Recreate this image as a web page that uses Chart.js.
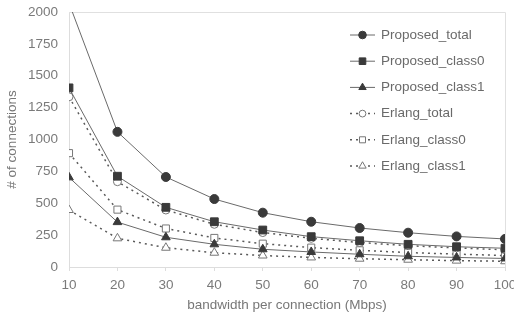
<!DOCTYPE html>
<html>
<head>
<meta charset="utf-8">
<script src="https://cdn.jsdelivr.net/npm/chart.js@4"></script>
<style>
  html, body { margin: 0; padding: 0; background: #fff; }
  #wrap { width: 514px; height: 317px; position: relative; }
</style>
</head>
<body>
<div id="wrap"><canvas id="chart"></canvas></div>
<script>
// bandwidth per connection (Mbps)
const bandwidth = [10, 20, 30, 40, 50, 60, 70, 80, 90, 100];

// # of connections
const proposedTotal  = [2070, 1060, 706, 533, 426, 355, 306, 269, 240, 220];
const proposedClass0 = [1405, 712, 468, 355, 290, 238, 206, 178, 159, 147];
const proposedClass1 = [703, 352, 233, 178, 139, 118, 100, 84, 75, 67];
const erlangTotal    = [1335, 669, 447, 335, 270, 225, 192, 167, 150, 135];
const erlangClass0   = [893, 450, 302, 228, 183, 152, 131, 113, 101, 90];
const erlangClass1   = [447, 225, 151, 112, 90, 75, 65, 57, 50, 45];

const yTicks = [0, 250, 500, 750, 1000, 1250, 1500, 1750, 2000];

const LINE = '#6a6a6a';
const MARK = '#3a3a3a';
const TEXT = '#7a7a7a';
const FONT = '"Liberation Sans", Arial, sans-serif';

function pairs(vals) {
  return vals.map((v, i) => ({ x: bandwidth[i], y: v }));
}

function solid(label, vals, style, radius) {
  return {
    label, data: pairs(vals),
    borderColor: LINE, borderWidth: 1,
    pointStyle: style, pointRadius: radius, pointHoverRadius: radius,
    pointBackgroundColor: MARK, pointBorderColor: MARK, pointBorderWidth: 1
  };
}

function dotted(label, vals, style, radius) {
  return {
    label, data: pairs(vals),
    borderColor: '#5a5a5a', borderWidth: 1.5, borderDash: [2, 4],
    pointStyle: style, pointRadius: radius, pointHoverRadius: radius,
    pointBackgroundColor: '#fff', pointBorderColor: '#777', pointBorderWidth: 1
  };
}

// frame around plot area (top/right border like the original)
const frame = {
  id: 'frame',
  beforeDatasetsDraw(chart) {
    const { ctx, chartArea: a } = chart;
    ctx.save();
    ctx.strokeStyle = '#e0e0e0';
    ctx.lineWidth = 1;
    ctx.beginPath();
    ctx.moveTo(a.left, a.top + 0.5);
    ctx.lineTo(a.right + 0.5, a.top + 0.5);
    ctx.lineTo(a.right + 0.5, a.bottom);
    ctx.stroke();
    ctx.restore();
  }
};

// legend drawn inside the plot, top right
const insideLegend = {
  id: 'insideLegend',
  afterDraw(chart) {
    const ctx = chart.ctx;
    const x0 = 350, x1 = 375, tx = 381, y0 = 35, gap = 26.2;
    ctx.save();
    chart.data.datasets.forEach((ds, i) => {
      const y = y0 + i * gap;
      ctx.strokeStyle = ds.borderColor;
      ctx.lineWidth = ds.borderWidth;
      ctx.setLineDash(ds.borderDash || []);
      ctx.beginPath();
      ctx.moveTo(x0, y);
      ctx.lineTo(x1, y);
      ctx.stroke();
      ctx.setLineDash([]);
      ctx.fillStyle = ds.pointBackgroundColor;
      ctx.strokeStyle = ds.pointBorderColor;
      ctx.lineWidth = ds.pointBorderWidth;
      Chart.helpers.drawPoint(ctx, {
        pointStyle: ds.pointStyle,
        radius: ds.pointRadius * 0.85,
        borderWidth: ds.pointBorderWidth,
        rotation: 0
      }, (x0 + x1) / 2, y);
      ctx.fillStyle = '#6a6a6a';
      ctx.font = '13.5px ' + FONT;
      ctx.textBaseline = 'middle';
      ctx.fillText(ds.label, tx, y);
    });
    ctx.restore();
  }
};

new Chart(document.getElementById('chart'), {
  type: 'line',
  data: {
    datasets: [
      solid('Proposed_total', proposedTotal, 'circle', 4.5),
      solid('Proposed_class0', proposedClass0, 'rect', 5.5),
      solid('Proposed_class1', proposedClass1, 'triangle', 5),
      dotted('Erlang_total', erlangTotal, 'circle', 4),
      dotted('Erlang_class0', erlangClass0, 'rect', 5),
      dotted('Erlang_class1', erlangClass1, 'triangle', 5)
    ]
  },
  options: {
    responsive: true,
    maintainAspectRatio: false,
    animation: false,
    layout: { padding: { top: 12, right: 9, left: 0, bottom: 0 } },
    plugins: { legend: { display: false }, tooltip: { enabled: false } },
    scales: {
      x: {
        type: 'linear', min: 10, max: 100,
        afterBuildTicks: s => { s.ticks = bandwidth.map(v => ({ value: v })); },
        afterFit: s => { s.height = 50; s.paddingLeft = 0; s.paddingRight = 0; },
        grid: { drawOnChartArea: false, tickLength: 4, color: '#dddddd' },
        border: { color: '#dddddd' },
        ticks: { color: TEXT, font: { family: FONT, size: 13.5 }, padding: 6, maxRotation: 0,
                 callback: v => String(v) },
        title: { display: true, text: 'bandwidth per connection (Mbps)', color: '#777', font: { family: FONT, size: 13.5 }, padding: { top: 0 } }
      },
      y: {
        min: 0, max: 2000,
        afterBuildTicks: s => { s.ticks = yTicks.map(v => ({ value: v })); },
        afterFit: s => { s.width = 69; s.paddingTop = 0; s.paddingBottom = 0; },
        grid: { drawOnChartArea: false, drawTicks: false, color: '#dddddd' },
        border: { color: '#dddddd' },
        ticks: { color: TEXT, font: { family: FONT, size: 13.5 }, padding: 11,
                 callback: v => String(v) },
        title: { display: true, text: '# of connections', color: '#777', font: { family: FONT, size: 13.5 }, padding: { bottom: 2 } }
      }
    }
  },
  plugins: [frame, insideLegend]
});
</script>
</body>
</html>
